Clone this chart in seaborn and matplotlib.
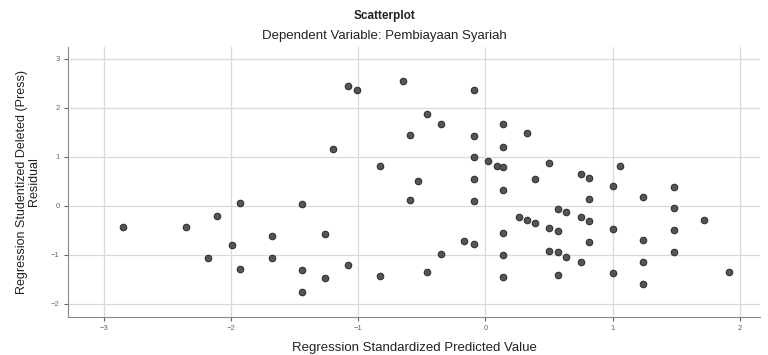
import numpy as np
import pandas as pd
import matplotlib
matplotlib.use("Agg")
import matplotlib.pyplot as plt
import seaborn as sns

# nilai (perkiraan)
predicted = [-2.85, -2.35, -2.11, -1.93, -1.99, -2.18, -1.93, -1.68, -1.68, -1.44,
             -1.44, -1.44, -1.26, -1.26, -1.08, -1.20, -1.08, -1.01, -0.83, -0.83,
             -0.65, -0.59, -0.59, -0.53, -0.46, -0.46, -0.35, -0.35, -0.17, -0.09,
             -0.09, -0.09, -0.09, -0.09, -0.09, 0.02, 0.09, 0.14, 0.14, 0.14,
             0.14, 0.14, 0.14, 0.14, 0.33, 0.26, 0.33, 0.39, 0.39, 0.50,
             0.50, 0.50, 0.57, 0.57, 0.57, 0.57, 0.63, 0.63, 0.75, 0.81,
             0.75, 0.81, 0.81, 0.81, 0.75, 1.06, 1.00, 1.00, 1.00, 1.24,
             1.24, 1.24, 1.24, 1.48, 1.48, 1.48, 1.48, 1.72, 1.91]
residual = [-0.43, -0.43, -0.20, 0.06, -0.80, -1.06, -1.29, -0.61, -1.06, 0.04,
            -1.31, -1.76, -0.57, -1.47, -1.20, 1.16, 2.45, 2.35, 0.82, -1.43,
            2.55, 1.45, 0.12, 0.51, 1.88, -1.35, 1.67, -0.98, -0.71, -0.78,
            2.37, 1.43, 1.00, 0.55, 0.10, 0.92, 0.82, 0.78, 1.67, 1.20,
            0.33, -0.55, -1.00, -1.45, 1.49, -0.22, -0.29, -0.35, 0.55, 0.88,
            -0.45, -0.92, -0.06, -0.51, -0.94, -1.41, -0.12, -1.04, 0.65, 0.57,
            -0.24, -0.31, 0.14, -0.73, -1.14, 0.80, 0.41, -0.47, -1.37, 0.18,
            -0.69, -1.14, -1.59, 0.39, -0.04, -0.49, -0.94, -0.29, -1.35]

x_ticks = [-3, -2, -1, 0, 1, 2]
y_ticks = [-2, -1, 0, 1, 2, 3]

df = pd.DataFrame({"pred": predicted, "resid": residual})

sns.set_style("whitegrid")
plt.rcParams["font.family"] = ["Liberation Sans", "DejaVu Sans"]

fig = plt.figure(figsize=(7.68, 3.55), dpi=100)
ax = fig.add_axes([0.0885, 0.107, 0.9015, 0.761])

sns.scatterplot(data=df, x="pred", y="resid", ax=ax, s=22, color="#555555",
                edgecolor="#333333", linewidth=0.8, zorder=3)

ax.set_xlim(-3.28, 2.16)
ax.set_ylim(-2.27, 3.24)
ax.set_xticks(x_ticks)
ax.set_yticks(y_ticks)
ax.tick_params(axis="both", labelsize=5.5, colors="#666666", length=3, direction="out",
               bottom=True, left=True, pad=3)
ax.grid(True, color="#d9d9d9", linewidth=0.9)

for side in ["top", "right"]:
    ax.spines[side].set_visible(False)
for side in ["left", "bottom"]:
    ax.spines[side].set_color("#888888")
    ax.spines[side].set_linewidth(0.8)

ax.set_xlabel("Regression Standardized Predicted Value", fontsize=9.5, color="#222222", labelpad=7)
ax.set_ylabel("Regression Studentized Deleted (Press)\nResidual", fontsize=9,
              color="#222222", linespacing=0.95, labelpad=8)

fig.text(0.5, 0.955, "Scatterplot", ha="center", va="center", fontsize=8.5,
         fontweight="bold", color="#222222")
fig.text(0.5, 0.9, "Dependent Variable: Pembiayaan Syariah", ha="center", va="center",
         fontsize=9.5, color="#222222")

fig.savefig("out.png", dpi=100)
plt.close(fig)
